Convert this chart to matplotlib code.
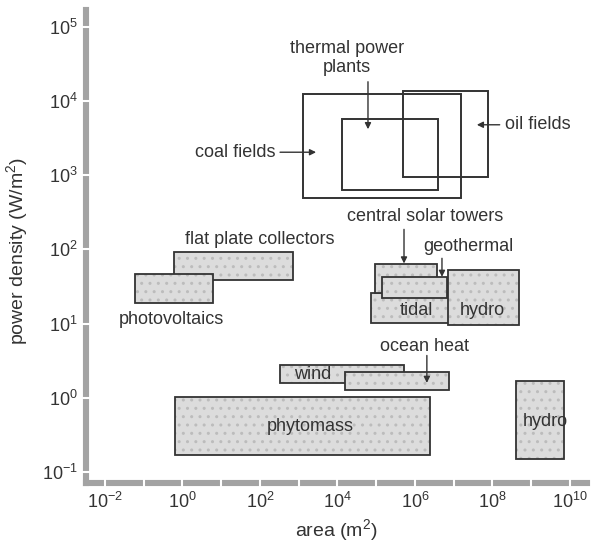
import matplotlib
matplotlib.use("Agg")
import matplotlib.pyplot as plt
from matplotlib.patches import Rectangle
from matplotlib.ticker import FixedLocator, NullLocator, NullFormatter

plt.rcParams["font.family"] = ["Liberation Sans", "DejaVu Sans"]
plt.rcParams["mathtext.fontset"] = "custom"
plt.rcParams["mathtext.rm"] = "Liberation Sans"
plt.rcParams["mathtext.it"] = "Liberation Sans:italic"
plt.rcParams["axes.unicode_minus"] = False

# energy sources: area range (m2) and power density range (W/m2)
sources = ["coal fields", "thermal power plants", "oil fields",
           "tidal", "central solar towers", "geothermal", "hydro",
           "flat plate collectors", "photovoltaics",
           "wind", "ocean heat", "phytomass", "hydro (large)"]
area_lo = [1.3e3, 1.35e4, 4.8e5, 7.2e4, 9.3e4, 1.4e5, 7.2e6,
           0.6, 0.059, 340, 1.55e4, 0.65, 4.1e8]
area_hi = [1.6e7, 3.9e6, 7.8e7, 8.0e6, 3.8e6, 6.6e6, 4.9e8,
           720, 6.2, 5.2e5, 7.8e6, 2.5e6, 7.1e9]
dens_lo = [500, 630, 950, 10.2, 26, 22, 9.5,
           39, 19, 1.6, 1.26, 0.17, 0.15]
dens_hi = [1.26e4, 5.8e3, 1.35e4, 26, 63, 43, 52,
           91, 47, 2.8, 2.2, 1.02, 1.7]
filled = [False, False, False, True, True, True, True,
          True, True, True, True, True, True]

ink = "#333333"
fill = "#dcdcdc"
dots = "#bcbcbc"

fig = plt.figure(figsize=(5.97, 5.44), dpi=100)
ax = fig.add_axes([0.144, 0.112, 0.839, 0.87])
ax.set_xscale("log")
ax.set_yscale("log")
ax.set_xlim(10**-2.49, 10**10.44)
ax.set_ylim(10**-1.15, 10**5.23)

for i in range(len(sources)):
    x0, x1 = area_lo[i], area_hi[i]
    y0, y1 = dens_lo[i], dens_hi[i]
    if filled[i]:
        ax.add_patch(Rectangle((x0, y0), x1 - x0, y1 - y0, facecolor=fill,
                               edgecolor=dots, hatch="..", lw=0, zorder=3 + i))
        ax.add_patch(Rectangle((x0, y0), x1 - x0, y1 - y0, fill=False,
                               edgecolor=ink, lw=1.3, zorder=3 + i))
    else:
        ax.add_patch(Rectangle((x0, y0), x1 - x0, y1 - y0, fill=False,
                               edgecolor=ink, lw=1.4, zorder=3))

# labels inside / next to boxes (log10 positions)
fs = 13
def lab(txt, lx, ly, ha="center"):
    ax.text(10**lx, 10**ly, txt, ha=ha, va="center", fontsize=fs,
            color=ink, zorder=30)

lab("thermal power\nplants", 4.25, 4.58)
lab("coal fields", 2.39, 3.31, ha="right")
lab("oil fields", 8.32, 3.68, ha="left")
lab("central solar towers", 6.26, 2.45)
lab("geothermal", 6.21, 2.04, ha="left")
lab("flat plate collectors", 2.0, 2.14)
lab("photovoltaics", -0.28, 1.05)
lab("tidal", 6.03, 1.18)
lab("hydro", 7.75, 1.18)
lab("ocean heat", 6.26, 0.69)
lab("wind", 3.37, 0.32)
lab("phytomass", 3.29, -0.39)
lab("hydro", 9.38, -0.32)

def arrow(xa, ya, xb, yb):
    ax.annotate("", xy=(10**xb, 10**yb), xytext=(10**xa, 10**ya),
                arrowprops=dict(arrowstyle="-|>", color=ink, lw=1.0,
                                mutation_scale=9, shrinkA=0, shrinkB=0),
                zorder=30)

arrow(4.79, 4.26, 4.79, 3.62)
arrow(2.52, 3.31, 3.45, 3.31)
arrow(8.19, 3.68, 7.60, 3.68)
arrow(5.72, 2.27, 5.72, 1.81)
arrow(6.70, 1.88, 6.70, 1.63)
arrow(6.31, 0.57, 6.31, 0.20)

# axes styling: thick grey bars with white tick gaps
for s in ["top", "right"]:
    ax.spines[s].set_visible(False)
for s in ["left", "bottom"]:
    ax.spines[s].set_color("#a3a3a3")
    ax.spines[s].set_linewidth(4.4)
    ax.spines[s].set_zorder(1)

xt = [10.0**e for e in range(-2, 11, 2)]
ax.xaxis.set_major_locator(FixedLocator(xt))
ax.xaxis.set_minor_locator(FixedLocator([10.0**e for e in range(-1, 11, 2)]))
ax.xaxis.set_minor_formatter(NullFormatter())
ax.yaxis.set_major_locator(FixedLocator([10.0**e for e in range(-1, 6)]))
ax.yaxis.set_minor_locator(NullLocator())
ax.tick_params(which="both", direction="inout", length=6, width=1.5,
               color="white", labelsize=13, labelcolor=ink, pad=3)

ax.set_xlabel("area (m$^2$)", fontsize=14, color=ink)
ax.set_ylabel("power density (W/m$^2$)", fontsize=14, color=ink)
ax.xaxis.set_label_coords(0.5, -0.072)
ax.yaxis.set_label_coords(-0.112, 0.49)

fig.savefig("out.png", dpi=100)
